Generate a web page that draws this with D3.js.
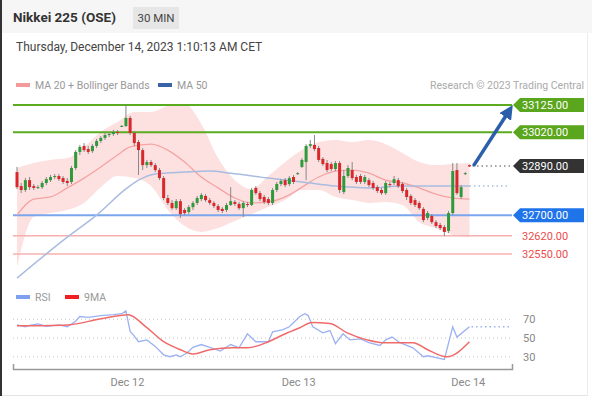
<!DOCTYPE html>
<html>
<head>
<meta charset="utf-8">
<script src="https://cdn.jsdelivr.net/npm/d3@7"></script>
<style>
  body { margin: 0; background: #fff; font-family: Roboto, Arial, sans-serif; }
</style>
</head>
<body>
<div id="chart"></div>
<script>
// 30 min candles, [open, high, low, close]
var ohlc = [
  [32866,32886,32801,32808],[32812,32824,32785,32797],[32797,32843,32789,32835],[32835,32847,32797,32808],
  [32812,32820,32797,32805],[32805,32816,32801,32808],[32808,32832,32801,32824],[32824,32847,32816,32839],
  [32835,32855,32828,32847],[32847,32859,32839,32851],[32851,32859,32832,32839],[32843,32851,32820,32828],
  [32832,32843,32812,32824],[32828,32890,32820,32882],[32882,32951,32874,32944],[32944,32971,32932,32963],
  [32967,32978,32944,32951],[32955,32967,32936,32944],[32947,32974,32940,32967],[32967,32994,32959,32986],
  [32986,33005,32978,32998],[32998,33017,32990,33009],[33009,33021,33001,33013],[33013,33029,33005,33021],
  [33021,33029,33009,33017],[33044,33048,33040,33044],[33044,33125,33040,33075],[33075,33083,33009,33017],
  [33017,33025,32967,32978],[32982,32990,32855,32951],[32951,32959,32874,32893],[32893,32913,32882,32905],
  [32905,32913,32886,32893],[32893,32901,32866,32874],[32874,32882,32835,32843],[32843,32851,32758,32766],
  [32766,32778,32739,32747],[32747,32758,32720,32727],[32727,32762,32720,32754],[32754,32762,32689,32704],
  [32720,32727,32700,32708],[32712,32739,32704,32731],[32731,32754,32720,32747],[32747,32774,32739,32766],
  [32762,32785,32754,32778],[32774,32781,32751,32758],[32758,32766,32739,32747],[32747,32754,32727,32735],
  [32735,32743,32712,32720],[32724,32731,32708,32716],[32720,32747,32712,32739],[32739,32808,32735,32754],
  [32751,32758,32735,32743],[32743,32751,32720,32727],[32727,32754,32693,32747],[32743,32751,32731,32739],
  [32739,32805,32735,32797],[32805,32812,32778,32785],[32785,32793,32754,32762],[32770,32778,32743,32751],
  [32762,32770,32739,32747],[32747,32805,32739,32797],[32797,32828,32789,32820],[32820,32839,32812,32832],
  [32835,32843,32808,32816],[32820,32851,32812,32843],[32847,32855,32820,32828],[32859,32866,32855,32862],
  [32886,32920,32882,32913],[32905,32974,32835,32967],[32967,32990,32959,32974],[32971,33009,32947,32955],
  [32959,32967,32905,32913],[32917,32924,32890,32897],[32901,32913,32866,32874],[32897,32905,32870,32878],
  [32878,32909,32870,32901],[32901,32909,32785,32797],[32789,32874,32781,32851],[32851,32893,32843,32882],
  [32874,32905,32835,32843],[32847,32855,32820,32828],[32851,32859,32820,32828],[32828,32855,32820,32847],
  [32835,32843,32808,32816],[32824,32832,32797,32805],[32808,32816,32785,32793],[32797,32805,32778,32785],
  [32785,32832,32778,32824],[32820,32828,32808,32816],[32824,32851,32816,32839],[32835,32843,32805,32812],
  [32820,32828,32785,32793],[32797,32805,32758,32770],[32774,32781,32739,32747],[32758,32766,32731,32739],
  [32747,32754,32720,32727],[32724,32731,32673,32681],[32689,32716,32681,32708],[32697,32704,32666,32673],
  [32673,32681,32650,32658],[32662,32670,32642,32650],[32654,32662,32619,32635],[32639,32716,32631,32708],
  [32708,32901,32700,32870],[32874,32901,32778,32785],[32770,32816,32762,32808],[32859,32866,32855,32862],
  [32893,32895,32886,32888]
];

// indicator readings: [bar index, value]
var ma20 = [[0,32700],[4,32762],[8,32770],[12,32805],[16,32843],[20,32886],[24,32932],[27,32963],
  [32,32974],[36,32951],[40,32905],[44,32847],[48,32805],[52,32766],[56,32747],[60,32751],[65,32778],
  [68,32808],[72,32847],[76,32870],[80,32874],[84,32862],[88,32835],[92,32824],[96,32805],[100,32781],
  [104,32766],[108,32762]];
var ma50 = [[0,32457],[12,32615],[19,32700],[26,32801],[29,32835],[33,32859],[40,32866],[46,32870],
  [51,32862],[60,32843],[68,32828],[76,32812],[84,32805],[92,32812],[100,32812],[108,32812]];
var bbIdx = [0,4,8,12,16,20,24,28,32,36,40,44,48,52,56,60,64,68,72,76,80,84,88,92,96,100,104,108];
var bbUpper = [32882,32901,32913,32920,32963,33021,33059,33098,33098,33121,33129,33052,32920,32835,
  32801,32851,32905,32951,32982,32990,32982,32990,32974,32940,32905,32893,32897,32901];
var bbLower = [32500,32693,32708,32720,32747,32808,32851,32843,32812,32720,32658,32635,32650,32677,
  32704,32731,32758,32797,32797,32770,32758,32747,32751,32739,32673,32650,32623,32615];

var rsi = [[0,64],[2,62],[3,63.5],[5,65],[7,62.5],[8,63],[10,64],[12,62],[14,68],[15,73],[17,72],
  [20,74],[23,75],[25,76],[26,79],[27,57],[28,52],[29,46],[31,48],[33,41],[35,32],[36.5,30],[38,32],
  [39,30],[40.5,34],[42,40],[44,43],[46,40],[47,38.5],[48.5,36],[51,43],[53,39.5],[55,54.5],[57,46],
  [60,46],[61,56.5],[63.5,59],[65,62],[67.5,73],[68.7,76],[69.5,74],[70.6,62],[73,55.5],[74.7,58],
  [76,44],[77.8,54.5],[79.5,48],[82,49],[84,45],[86.6,42],[88,48],[89.5,51],[91.4,45],[94.5,39.5],
  [97,30],[98,31],[100,29],[102,27],[104,62],[105,51],[108,62]];
var rsiMa = [[0,63],[12,64],[20,70.5],[26.5,75],[31,61],[35,46],[39,37.5],[42,33],[46,37.5],[51.5,39.5],
  [55,39.5],[60,46],[63.5,53.5],[67.5,61],[70.4,66.5],[74.7,65.5],[78.8,55.5],[83.5,48],[87.3,45],
  [94.5,45],[98,37.5],[102.6,30],[108,46]];

var levels = [
  { v: 33125, type: "res" }, { v: 33020, type: "res" },
  { v: 32700, type: "sup" }, { v: 32620, type: "sup2" }, { v: 32550, type: "sup2" }
];
var lastPrice = 32890;
var dayTicks = [26.25, 67.1, 107.6];
var dayLabels = ["Dec 12", "Dec 13", "Dec 14"];
var rsiTicks = [30, 50, 70];

var W = 592, H = 398;
var svg = d3.select("#chart").append("svg").attr("width", W).attr("height", H);

// frame / header
svg.append("rect").attr("width", W).attr("height", 33).attr("fill", "#f6f6f6");
svg.append("rect").attr("x", 0).attr("y", 0).attr("width", 2).attr("height", 396).attr("fill", "#333");
svg.append("line").attr("x1", 2).attr("x2", 588).attr("y1", 395.5).attr("y2", 395.5).attr("stroke", "#e4e4e4");
svg.append("line").attr("x1", 587.5).attr("x2", 587.5).attr("y1", 33).attr("y2", 396).attr("stroke", "#ececec");

svg.append("text").attr("x", 13).attr("y", 22).attr("font-size", 13.5).attr("font-weight", 700)
  .attr("fill", "#333").text("Nikkei 225 (OSE)");
svg.append("rect").attr("x", 133).attr("y", 7).attr("width", 46).attr("height", 22).attr("fill", "#e6e6e6");
svg.append("text").attr("x", 156).attr("y", 22).attr("text-anchor", "middle").attr("font-size", 11.5)
  .attr("fill", "#444").text("30 MIN");
svg.append("text").attr("x", 16).attr("y", 51).attr("font-size", 12).attr("fill", "#444")
  .text("Thursday, December 14, 2023 1:10:13 AM CET");

// legend
svg.append("rect").attr("x", 16).attr("y", 83).attr("width", 14).attr("height", 4).attr("fill", "#f59a9a");
svg.append("text").attr("x", 35).attr("y", 89).attr("font-size", 10.5).attr("fill", "#999").text("MA 20 + Bollinger Bands");
svg.append("rect").attr("x", 158).attr("y", 83).attr("width", 14).attr("height", 4).attr("fill", "#3a62a8");
svg.append("text").attr("x", 177).attr("y", 89).attr("font-size", 10.5).attr("fill", "#999").text("MA 50");
svg.append("text").attr("x", 584).attr("y", 89).attr("text-anchor", "end").attr("font-size", 10.5)
  .attr("fill", "#aaa").text("Research \u00a9 2023 Trading Central");

// scales
var x = d3.scaleLinear().domain([0, 108]).range([17, 469.5]);
var y = d3.scaleLinear().domain([32550, 33125]).range([254, 105]);
var yR = d3.scaleLinear().domain([30, 70]).range([356.7, 319.3]);
var lineL = 13, lineR = 512;

// bollinger band
var band = d3.area().curve(d3.curveMonotoneX)
  .x(function(d, i) { return x(bbIdx[i]); })
  .y0(function(d, i) { return y(bbLower[i]); })
  .y1(function(d) { return y(d); });
svg.append("path").datum(bbUpper).attr("d", band).attr("fill", "#fde1e1");

// level lines
var levelColor = { res: "#5aab1f", sup: "#7aa6ee", sup2: "#f6b0b0" };
svg.selectAll(".lvl").data(levels).enter().append("line")
  .attr("x1", lineL).attr("x2", lineR)
  .attr("y1", function(d) { return y(d.v); }).attr("y2", function(d) { return y(d.v); })
  .attr("stroke", function(d) { return levelColor[d.type]; })
  .attr("stroke-width", function(d) { return d.type == "sup2" ? 1.5 : 2; });

// moving averages
var pl = d3.line().curve(d3.curveMonotoneX)
  .x(function(d) { return x(d[0]); }).y(function(d) { return y(d[1]); });
svg.append("path").datum(ma20).attr("d", pl).attr("fill", "none").attr("stroke", "#f5a3a3").attr("stroke-width", 1.3);
svg.append("path").datum(ma50).attr("d", pl).attr("fill", "none").attr("stroke", "#a9bce0").attr("stroke-width", 1.5);

// candles
var cg = svg.append("g");
cg.selectAll(".wick").data(ohlc).enter().append("line")
  .attr("x1", function(d, i) { return x(i); }).attr("x2", function(d, i) { return x(i); })
  .attr("y1", function(d) { return y(d[1]); }).attr("y2", function(d) { return y(d[2]); })
  .attr("stroke", "#888").attr("stroke-width", 1);
cg.selectAll(".body").data(ohlc).enter().append("rect")
  .attr("x", function(d, i) { return x(i) - 1.5; })
  .attr("width", 3)
  .attr("y", function(d) { return y(Math.max(d[0], d[3])); })
  .attr("height", function(d) { return Math.max(1, Math.abs(y(d[0]) - y(d[3]))); })
  .attr("fill", function(d) { return d[3] >= d[0] ? "#2e9a3c" : "#d8282c"; });

// dotted extensions
var lastIdx = ohlc.length - 1;
svg.append("line").attr("x1", x(lastIdx) + 3).attr("x2", 512)
  .attr("y1", y(lastPrice)).attr("y2", y(lastPrice))
  .attr("stroke", "#888").attr("stroke-width", 1.5).attr("stroke-dasharray", "1.5,3");
var ma50Last = ma50[ma50.length - 1];
svg.append("line").attr("x1", x(ma50Last[0])).attr("x2", 510)
  .attr("y1", y(ma50Last[1])).attr("y2", y(ma50Last[1]))
  .attr("stroke", "#a9bce0").attr("stroke-width", 1.5).attr("stroke-dasharray", "1.5,3");

// target arrow
svg.append("defs").append("marker").attr("id", "ah").attr("viewBox", "0 0 10 10")
  .attr("refX", 5).attr("refY", 5).attr("markerWidth", 4).attr("markerHeight", 4)
  .attr("orient", "auto").append("path").attr("d", "M0,0L10,5L0,10z").attr("fill", "#2b5fab");
svg.append("line").attr("x1", x(lastIdx) + 4).attr("y1", y(lastPrice))
  .attr("x2", 509).attr("y2", y(levels[0].v) + 6)
  .attr("stroke", "#2b5fab").attr("stroke-width", 3.5).attr("marker-end", "url(#ah)");

// level labels
var boxFill = { res: "#5aa61c", sup: "#1f74ea" };
function tag(v, fill, txtColor) {
  var yy = y(v), x0 = 513, x1 = 584, h = 7;
  if (fill) {
    svg.append("path")
      .attr("d", "M" + x0 + "," + yy + "L" + (x0 + 7) + "," + (yy - h) + "H" + x1 + "V" + (yy + h) + "H" + (x0 + 7) + "Z")
      .attr("fill", fill);
  }
  svg.append("text").attr("x", 522).attr("y", yy + 4).attr("font-size", 11)
    .attr("fill", txtColor).text(d3.format(".2f")(v));
}
levels.forEach(function(d) {
  if (d.type == "sup2") tag(d.v, null, "#ec4b4b");
  else tag(d.v, boxFill[d.type], "#fff");
});
tag(lastPrice, "#333", "#fff");

// RSI panel
svg.append("rect").attr("x", 16).attr("y", 295).attr("width", 14).attr("height", 4).attr("fill", "#7f9ff0");
svg.append("text").attr("x", 35).attr("y", 301).attr("font-size", 10.5).attr("fill", "#999").text("RSI");
svg.append("rect").attr("x", 65).attr("y", 295).attr("width", 14).attr("height", 4).attr("fill", "#f02020");
svg.append("text").attr("x", 84).attr("y", 301).attr("font-size", 10.5).attr("fill", "#999").text("9MA");

svg.selectAll(".rg").data(rsiTicks).enter().append("line")
  .attr("x1", lineL).attr("x2", 510)
  .attr("y1", function(d) { return yR(d); }).attr("y2", function(d) { return yR(d); })
  .attr("stroke", "#c8c8c8").attr("stroke-dasharray", "1,3");
svg.selectAll(".rl").data(rsiTicks).enter().append("text")
  .attr("x", 523).attr("y", function(d) { return yR(d) + 4; })
  .attr("font-size", 11).attr("fill", "#888").text(function(d) { return d; });

var rl = d3.line().x(function(d) { return x(d[0]); }).y(function(d) { return yR(d[1]); });
svg.append("path").datum(rsi).attr("d", rl).attr("fill", "none").attr("stroke", "#9cb1f2").attr("stroke-width", 1.3);
svg.append("path").datum(rsiMa).attr("d", rl.curve(d3.curveMonotoneX)).attr("fill", "none")
  .attr("stroke", "#f06a6a").attr("stroke-width", 1.5);
var rsiLast = rsi[rsi.length - 1];
svg.append("line").attr("x1", x(rsiLast[0]) + 2).attr("x2", 510)
  .attr("y1", yR(rsiLast[1])).attr("y2", yR(rsiLast[1]))
  .attr("stroke", "#9cb1f2").attr("stroke-width", 1.5).attr("stroke-dasharray", "1.5,3");

// time axis
var xa = x.copy().domain([x.invert(lineL), x.invert(lineR)]).range([lineL, lineR]);
var ax = svg.append("g").attr("transform", "translate(0,369)")
  .call(d3.axisBottom(xa).tickValues(dayTicks)
    .tickFormat(function(d, i) { return dayLabels[i]; })
    .tickSizeInner(0).tickSizeOuter(-5).tickPadding(9));
ax.select(".domain").attr("stroke", "#999").attr("stroke-width", 1.5);
ax.selectAll("text").attr("font-size", 11).attr("fill", "#888").attr("font-family", "Roboto, Arial, sans-serif");
</script>
</body>
</html>
